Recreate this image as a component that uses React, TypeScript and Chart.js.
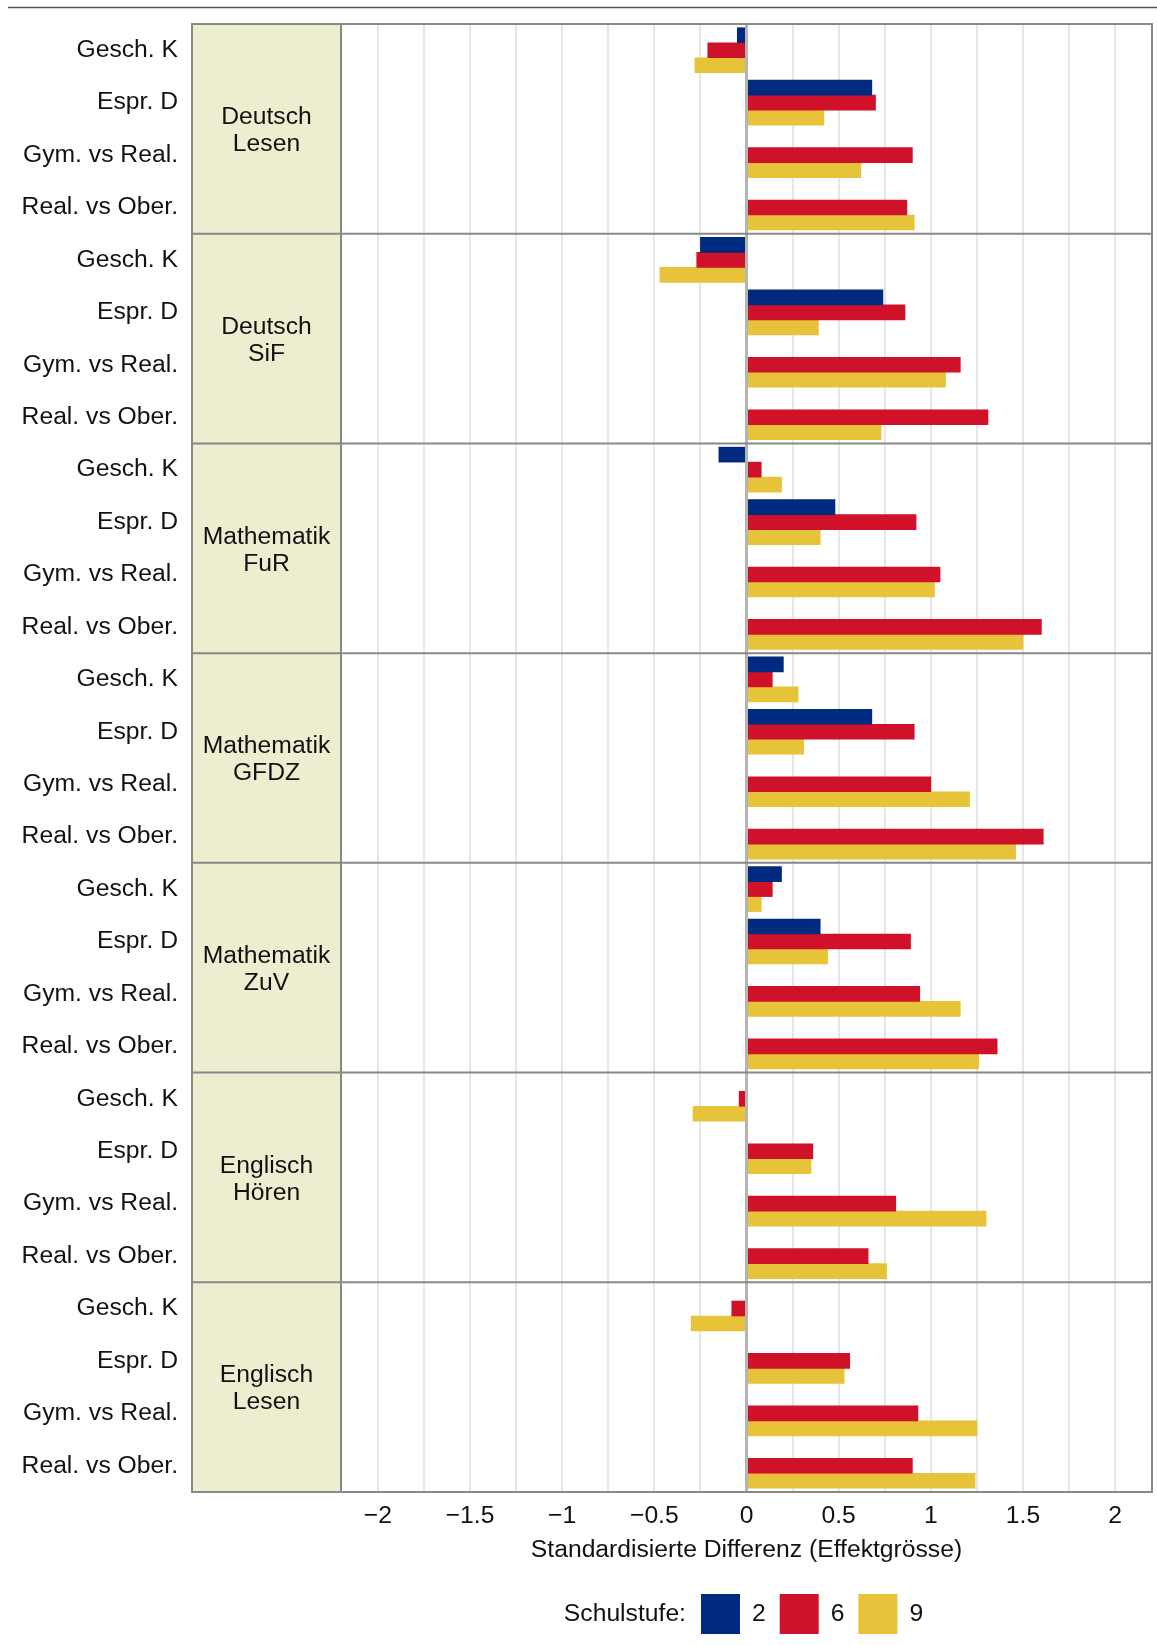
import React, { useEffect, useRef } from "react";
import { Chart, registerables } from "chart.js";

Chart.register(...registerables);

// ---------- data ----------
const panelTitles: string[][] = [
  ["Deutsch", "Lesen"],
  ["Deutsch", "SiF"],
  ["Mathematik", "FuR"],
  ["Mathematik", "GFDZ"],
  ["Mathematik", "ZuV"],
  ["Englisch", "Hören"],
  ["Englisch", "Lesen"],
];
const comparisons = ["Gesch. K", "Espr. D", "Gym. vs Real.", "Real. vs Ober."];
const gradeLabels = ["2", "6", "9"];

// Order: panel by panel, 4 comparisons each
const grade2: (number | null)[] = [
  -0.05, 0.68, null, null,
  -0.25, 0.74, null, null,
  -0.15, 0.48, null, null,
  0.2, 0.68, null, null,
  0.19, 0.4, null, null,
  null, null, null, null,
  null, null, null, null,
];
const grade6: (number | null)[] = [
  -0.21, 0.7, 0.9, 0.87,
  -0.27, 0.86, 1.16, 1.31,
  0.08, 0.92, 1.05, 1.6,
  0.14, 0.91, 1.0, 1.61,
  0.14, 0.89, 0.94, 1.36,
  -0.04, 0.36, 0.81, 0.66,
  -0.08, 0.56, 0.93, 0.9,
];
const grade9: (number | null)[] = [
  -0.28, 0.42, 0.62, 0.91,
  -0.47, 0.39, 1.08, 0.73,
  0.19, 0.4, 1.02, 1.5,
  0.28, 0.31, 1.21, 1.46,
  0.08, 0.44, 1.16, 1.26,
  -0.29, 0.35, 1.3, 0.76,
  -0.3, 0.53, 1.25, 1.24,
];
const xTickLabels = [-2, -1.5, -1, -0.5, 0, 0.5, 1, 1.5, 2];
const xTitle = "Standardisierte Differenz (Effektgrösse)";
const legendTitle = "Schulstufe:";

// ---------- styles ----------
const FONT = "'Liberation Sans', Arial, Helvetica, sans-serif";
const FS = 24.7;
const COLORS = ["#002A80", "#D0112A", "#E6C339"];
const PANEL_BG = "#EDEDD0";
const FRAME = "#888888";
const TEXT = "#111111";
const W = 1157;
const H = 1645;
const FRAME_LEFT = 192;

const fmt = (v: number) => (v < 0 ? "\u2212" + Math.abs(v) : String(v));

const decorPlugin = {
  id: "decor",
  beforeDatasetsDraw(chart: any) {
    const { ctx, chartArea } = chart;
    ctx.save();
    // label panel background
    ctx.fillStyle = PANEL_BG;
    ctx.fillRect(FRAME_LEFT, chartArea.top, chartArea.left - FRAME_LEFT, chartArea.bottom - chartArea.top);
    // panel titles
    const ph = (chartArea.bottom - chartArea.top) / panelTitles.length;
    ctx.fillStyle = TEXT;
    ctx.font = `${FS}px ${FONT}`;
    ctx.textAlign = "center";
    ctx.textBaseline = "middle";
    const cx = (FRAME_LEFT + chartArea.left) / 2;
    panelTitles.forEach((lines, i) => {
      const cy = chartArea.top + ph * (i + 0.5) + 2;
      const n = lines.length;
      lines.forEach((t, j) => {
        ctx.fillText(t, cx, cy + (j - (n - 1) / 2) * 27);
      });
    });
    ctx.restore();
  },
  afterDatasetsDraw(chart: any) {
    const { ctx, chartArea } = chart;
    const xs = chart.scales.x;
    const ys = chart.scales.y;
    ctx.save();
    // zero line
    const x0 = xs.getPixelForValue(0);
    ctx.strokeStyle = "#B4B4B4";
    ctx.lineWidth = 3;
    ctx.beginPath();
    ctx.moveTo(x0, chartArea.top);
    ctx.lineTo(x0, chartArea.bottom);
    ctx.stroke();
    // panel separators
    ctx.strokeStyle = FRAME;
    ctx.lineWidth = 2;
    const per = comparisons.length;
    for (let k = 1; k < panelTitles.length; k++) {
      const y = (ys.getPixelForValue(k * per - 1) + ys.getPixelForValue(k * per)) / 2;
      ctx.beginPath();
      ctx.moveTo(FRAME_LEFT, y);
      ctx.lineTo(chartArea.right, y);
      ctx.stroke();
    }
    // frame
    ctx.strokeRect(FRAME_LEFT, chartArea.top, chartArea.right - FRAME_LEFT, chartArea.bottom - chartArea.top);
    ctx.beginPath();
    ctx.moveTo(chartArea.left, chartArea.top);
    ctx.lineTo(chartArea.left, chartArea.bottom);
    ctx.stroke();
    // top rule
    ctx.strokeStyle = "#555555";
    ctx.lineWidth = 1.6;
    ctx.beginPath();
    ctx.moveTo(8, 7.5);
    ctx.lineTo(W, 7.5);
    ctx.stroke();
    ctx.restore();
  },
  afterDraw(chart: any) {
    const { ctx, chartArea } = chart;
    ctx.save();
    ctx.font = `${FS}px ${FONT}`;
    ctx.textBaseline = "middle";
    ctx.textAlign = "left";
    const boxW = 39;
    const boxH = 40;
    const gapTitle = 15;
    const gapBox = 12;
    const gapItem = 14;
    const ds = chart.data.datasets;
    const titleW = ctx.measureText(legendTitle).width;
    const labelW = ds.map((d: any) => ctx.measureText(d.label).width);
    let total = titleW + gapTitle;
    labelW.forEach((lw: number, i: number) => {
      total += boxW + gapBox + lw + (i < labelW.length - 1 ? gapItem : 0);
    });
    const cy = 1614;
    let x = (chartArea.left + chartArea.right) / 2 - total / 2 - 3;
    ctx.fillStyle = TEXT;
    ctx.fillText(legendTitle, x, cy);
    x += titleW + gapTitle;
    ds.forEach((d: any, i: number) => {
      ctx.fillStyle = d.backgroundColor;
      ctx.fillRect(x, cy - boxH / 2, boxW, boxH);
      x += boxW + gapBox;
      ctx.fillStyle = TEXT;
      ctx.fillText(d.label, x, cy);
      x += labelW[i] + gapItem;
    });
    ctx.restore();
  },
};

export default function App() {
  const ref = useRef<HTMLCanvasElement | null>(null);

  useEffect(() => {
    if (!ref.current) return;
    Chart.defaults.font.family = FONT;
    const labels = panelTitles.flatMap(() => comparisons);
    const series = [grade2, grade6, grade9];
    const chart = new Chart(ref.current, {
      type: "bar",
      data: {
        labels,
        datasets: series.map((data, i) => ({
          label: gradeLabels[i],
          data,
          backgroundColor: COLORS[i],
          borderWidth: 0,
          barThickness: 15,
        })),
      },
      options: {
        indexAxis: "y",
        responsive: false,
        animation: false,
        layout: { autoPadding: false, padding: { left: 0, top: 24, right: 5, bottom: 80 } },
        plugins: {
          legend: { display: false },
          tooltip: { enabled: false },
          title: { display: false },
        },
        scales: {
          x: {
            type: "linear",
            min: -2.2,
            max: 2.2,
            border: { display: false },
            grid: {
              color: "#E6E6E6",
              lineWidth: 2,
              drawTicks: false,
            },
            ticks: {
              stepSize: 0.25,
              includeBounds: false,
              autoSkip: false,
              maxRotation: 0,
              padding: 9,
              color: TEXT,
              font: { size: FS, family: FONT },
              callback: (value: any) => {
                const v = Number(value);
                const t = xTickLabels.find((l) => Math.abs(l - v) < 1e-6);
                return t === undefined ? "" : fmt(t);
              },
            },
            title: {
              display: true,
              text: xTitle,
              color: TEXT,
              font: { size: FS, family: FONT },
              padding: { top: 0, bottom: 0 },
            },
            afterFit: (s: any) => {
              s.height = 73;
              s.paddingLeft = 0;
              s.paddingRight = 0;
              s.paddingTop = 0;
              s.paddingBottom = 0;
            },
          },
          y: {
            type: "category",
            offset: true,
            border: { display: false },
            grid: { display: false, drawTicks: false },
            ticks: {
              autoSkip: false,
              padding: 163,
              color: TEXT,
              font: { size: FS, family: FONT },
            },
            afterFit: (s: any) => {
              s.width = 341;
              s.paddingTop = 0;
              s.paddingBottom = 0;
              s.paddingLeft = 0;
              s.paddingRight = 0;
            },
          },
        },
      },
      plugins: [decorPlugin],
    } as any);
    return () => chart.destroy();
  }, []);

  return (
    <div style={{ position: "absolute", left: 0, top: 0, width: W, height: H, background: "#fff" }}>
      <canvas ref={ref} width={W} height={H} style={{ display: "block", width: W, height: H }} />
    </div>
  );
}
